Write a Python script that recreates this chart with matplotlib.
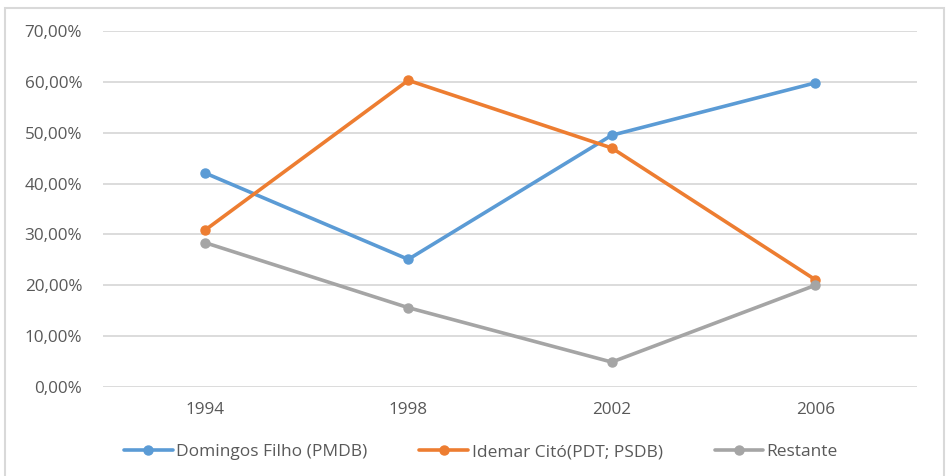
import matplotlib.pyplot as plt
from matplotlib.patches import Rectangle
from matplotlib.ticker import FuncFormatter

anos = ['1994', '1998', '2002', '2006']
domingos = [42.1, 25.1, 49.5, 59.8]
idemar = [30.8, 60.3, 47.0, 21.1]
restante = [28.4, 15.6, 4.9, 20.0]

series = [
    ('Domingos Filho (PMDB)', domingos, '#5b9bd5'),
    ('Idemar Citó(PDT; PSDB)', idemar, '#ed7d31'),
    ('Restante', restante, '#a5a5a5'),
]

plt.rcParams['font.family'] = ['Open Sans', 'DejaVu Sans']

fig = plt.figure(figsize=(9.46, 4.76), dpi=100)
ax = fig.add_axes([103/946, 1 - 387/476, (917 - 103)/946, (387 - 31)/476])

x = range(len(anos))
for nome, vals, cor in series:
    ax.plot(x, vals, color=cor, lw=2.6, marker='o', ms=6.5, label=nome,
            solid_capstyle='round')

ax.set_xlim(-0.5, len(anos) - 0.5)
ax.set_ylim(0, 70)
ax.set_yticks(range(0, 71, 10))
ax.yaxis.set_major_formatter(FuncFormatter(lambda v, p: f'{v:.2f}%'.replace('.', ',')))
ax.set_xticks(list(x))
ax.set_xticklabels(anos)
ax.grid(axis='y', color='#d9d9d9', lw=1.3)
ax.set_axisbelow(True)
for s in ax.spines.values():
    s.set_visible(False)
ax.tick_params(length=0, labelsize=12.3, colors='#595959', pad=11)
ax.tick_params(axis='y', pad=15)

# borda do grafico
fig.patches.append(Rectangle((5/946, -0.05), 939/946, 1 - 8/476 + 0.05,
                             transform=fig.transFigure, fill=False,
                             edgecolor='#d9d9d9', lw=1.5))

leg = fig.legend(loc='center', bbox_to_anchor=(481/946, 1 - 452/476), ncol=3,
                 frameon=False, fontsize=12.5, handlelength=2.8,
                 handletextpad=0.2, columnspacing=3.0)
for t in leg.get_texts():
    t.set_color('#595959')

fig.savefig('out.png', dpi=100)
